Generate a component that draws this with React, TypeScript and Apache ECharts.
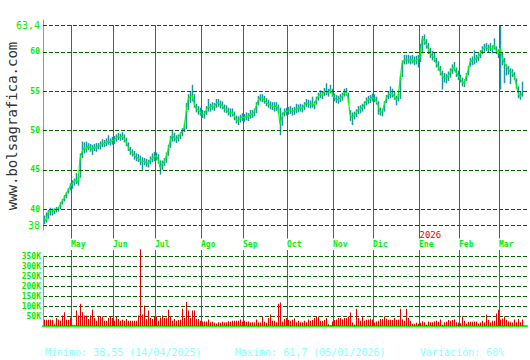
import { useEffect, useRef } from 'react';
import * as echarts from 'echarts';

// ---- calendar ----
const START_DATE = '2025-04-11';
const MARKET_CLOSED = ['2025-05-01', '2026-01-01', '2026-01-06'];
const EMPTY_SLOTS = 2;
const MONTHS_ES = ['Ene', 'Feb', 'Mar', 'Abr', 'May', 'Jun', 'Jul', 'Ago', 'Sep', 'Oct', 'Nov', 'Dic'];

// ---- axis ticks ----
const PRICE_TICKS = [38, 40, 45, 50, 55, 60, 63.4];
const PRICE_MIN = 37.365;
const PRICE_MAX = 64.035;
const VOLUME_MAX = 350000;
const VOLUME_STEP = 50000;

// ---- daily closes (Apr 2025 .. Mar 2026) ----
const closes = [
  38.8, 38.55, 39.5, 39.9, 39.9, 39.8, 40.0, 40.1, 40.5, 41.0, 41.4, 41.9, 42.4, 42.9,
  43.2, 43.5, 43.7, 43.4, 46.4, 47.3, 47.8, 47.7, 48.0, 47.8, 47.6, 47.9, 47.8, 48.0, 48.1, 48.4, 48.3, 48.5, 48.6, 48.5, 48.7,
  48.8, 49.0, 49.2, 49.1, 49.3, 49.0, 48.6, 48.0, 47.4, 47.2, 46.9, 46.6, 46.5, 46.2, 46.0, 46.1, 45.9, 45.8, 46.2, 46.5, 46.6,
  46.8, 46.4, 45.3, 45.7, 46.0, 46.6, 47.5, 48.6, 49.4, 49.1, 48.9, 49.1, 49.4, 49.9, 50.3, 52.2, 53.9, 54.3, 54.5, 53.5, 52.8, 52.6, 52.4,
  52.1, 52.0, 52.5, 53.0, 52.9, 53.1, 53.0, 53.4, 53.5, 53.3, 53.2, 52.8, 52.7, 52.4, 52.2, 52.3, 51.9, 51.4, 51.2, 51.5, 51.7,
  51.6, 51.8, 51.7, 52.0, 52.1, 52.3, 53.0, 53.8, 54.2, 54.1, 53.9, 53.6, 53.4, 53.2, 53.1, 53.0, 53.1, 52.8, 50.8, 51.8, 52.3, 52.4,
  52.5, 52.6, 52.4, 52.5, 52.7, 52.8, 52.9, 52.8, 53.1, 53.5, 53.4, 53.3, 53.4, 53.2, 53.8, 54.3, 54.6, 54.5, 54.9, 55.0, 54.8, 55.2, 54.8,
  54.2, 54.0, 53.9, 54.1, 54.3, 54.8, 54.9, 54.2, 52.0, 51.7, 51.9, 52.2, 52.6, 52.7, 52.9, 53.2, 53.7, 53.9, 54.0, 54.2,
  54.1, 53.8, 53.2, 52.4, 52.3, 53.2, 54.0, 54.5, 54.6, 54.7, 54.4, 53.9, 54.2, 56.4, 58.5, 58.9, 59.0, 59.0, 58.9, 59.0, 58.8, 58.9, 59.0,
  59.3, 61.7, 61.5, 61.0, 60.5, 59.8, 59.5, 59.3, 58.6, 58.2, 57.6, 57.0, 56.7, 56.6, 56.9, 57.3, 57.8, 58.1, 57.4, 57.0,
  56.6, 56.2, 56.0, 56.8, 57.6, 58.7, 58.9, 59.0, 59.1, 59.3, 59.7, 60.2, 60.5, 60.6, 60.4, 60.6, 60.3, 60.9, 60.2, 59.8,
  60.5, 59.4, 58.6, 58.2, 57.8, 57.5, 57.4, 57.0, 56.0, 54.8, 54.3, 54.7,
];

const highs = [
  39.2, 39.6, 39.9, 40.2, 40.1, 40.1, 40.3, 40.3, 40.9, 41.3, 41.8, 42.2, 42.7, 43.3,
  43.7, 43.9, 44.6, 44.2, 47.1, 48.6, 48.5, 48.6, 48.4, 48.3, 48.2, 48.3, 48.4, 48.4, 48.6, 48.9, 48.8, 49.0, 49.4, 49.0, 49.2,
  49.3, 49.5, 49.7, 49.6, 49.8, 49.5, 49.1, 48.5, 47.9, 47.6, 47.4, 47.1, 47.0, 46.8, 46.6, 46.5, 46.4, 46.3, 46.7, 47.1, 47.3,
  47.2, 47.0, 46.2, 46.2, 46.5, 47.2, 48.2, 49.3, 50.1, 49.7, 49.4, 49.5, 49.8, 50.3, 50.8, 53.5, 54.6, 55.0, 55.8, 54.6, 53.4, 53.1, 52.9,
  52.6, 52.5, 53.1, 54.0, 53.4, 53.6, 53.5, 54.0, 54.0, 53.8, 53.7, 53.3, 53.2, 52.9, 52.8, 52.8, 52.4, 51.9, 51.8, 52.0, 52.2,
  52.1, 52.3, 52.2, 52.6, 52.6, 52.8, 53.6, 54.4, 54.6, 54.6, 54.4, 54.1, 53.9, 53.7, 53.6, 53.6, 53.6, 53.3, 52.9, 52.3, 52.8, 52.9,
  53.0, 53.1, 52.9, 53.0, 53.4, 53.3, 53.4, 53.3, 53.6, 54.0, 53.9, 53.8, 54.3, 53.7, 54.3, 54.8, 55.1, 55.0, 55.4, 56.0, 55.3, 55.8, 55.3,
  54.7, 54.5, 54.4, 54.6, 54.8, 55.3, 55.4, 54.8, 52.6, 52.3, 52.4, 52.7, 53.1, 53.2, 53.4, 53.7, 54.2, 54.4, 54.5, 54.7,
  54.6, 54.3, 53.7, 52.9, 52.8, 53.7, 54.5, 55.0, 55.6, 55.3, 54.9, 54.4, 54.7, 57.0, 58.9, 59.6, 59.6, 59.6, 59.5, 59.6, 59.4, 59.5, 59.6,
  61.0, 62.0, 62.2, 61.6, 61.1, 60.5, 60.1, 59.9, 59.2, 58.8, 58.2, 57.6, 57.3, 57.2, 57.5, 57.9, 58.4, 58.7, 58.0, 57.6,
  57.1, 56.7, 56.5, 57.3, 58.2, 59.2, 59.4, 60.2, 59.6, 59.8, 60.2, 60.7, 61.0, 61.1, 60.9, 61.1, 60.8, 61.7, 60.7, 60.3,
  63.4, 59.9, 59.2, 58.4, 58.2, 57.9, 57.8, 57.4, 56.6, 55.6, 55.0, 56.2,
];

const lows = [
  38.1, 38.3, 38.8, 39.2, 39.2, 39.4, 39.6, 39.7, 40.0, 40.6, 41.0, 41.4, 42.0, 42.4,
  42.6, 43.0, 43.2, 43.0, 44.0, 46.5, 47.1, 47.2, 47.5, 47.3, 46.9, 47.4, 47.3, 47.6, 47.6, 47.9, 47.9, 48.0, 48.2, 48.1, 48.2,
  48.3, 48.6, 48.8, 48.7, 48.8, 48.5, 48.0, 47.4, 46.9, 46.7, 46.3, 46.1, 46.0, 45.6, 45.0, 45.6, 45.4, 45.3, 45.7, 46.0, 46.1,
  46.2, 45.8, 44.4, 45.0, 45.5, 45.9, 46.8, 47.8, 48.6, 48.6, 48.4, 48.6, 48.9, 49.3, 49.8, 50.2, 52.6, 53.5, 53.7, 52.9, 52.3, 52.0, 51.9,
  51.6, 51.5, 52.0, 52.4, 52.4, 52.6, 52.5, 52.9, 53.0, 52.8, 52.7, 52.3, 52.2, 51.9, 51.7, 51.8, 51.3, 50.9, 50.7, 51.0, 51.2,
  51.1, 51.3, 51.2, 51.5, 51.6, 51.8, 52.2, 53.2, 53.7, 53.6, 53.4, 53.1, 52.9, 52.7, 52.6, 52.4, 52.5, 52.2, 49.4, 50.6, 51.8, 51.9,
  52.0, 52.1, 51.9, 52.0, 52.2, 52.3, 52.4, 52.3, 52.6, 53.0, 52.9, 52.8, 52.9, 52.7, 53.3, 53.8, 54.1, 54.0, 54.4, 54.5, 54.3, 54.7, 54.3,
  53.7, 53.5, 53.4, 53.6, 53.8, 54.3, 54.4, 53.5, 51.2, 50.7, 51.4, 51.7, 52.1, 52.2, 52.4, 52.7, 53.2, 53.4, 53.5, 53.7,
  53.6, 53.3, 52.0, 51.9, 51.8, 52.4, 53.5, 54.0, 54.1, 54.2, 53.9, 53.2, 53.7, 54.0, 56.8, 58.4, 58.4, 58.5, 58.4, 58.5, 58.3, 58.4, 58.0,
  58.7, 59.8, 60.9, 60.4, 59.7, 59.2, 58.9, 58.7, 58.0, 57.6, 57.0, 55.2, 56.1, 56.0, 56.3, 56.7, 57.2, 57.5, 56.8, 56.4,
  56.1, 55.6, 55.5, 56.3, 57.0, 58.1, 58.3, 58.4, 58.6, 58.8, 59.2, 59.7, 60.0, 60.1, 59.9, 60.1, 59.8, 60.3, 59.7, 59.2,
  55.2, 58.3, 56.0, 57.0, 57.1, 55.9, 56.8, 56.4, 55.3, 54.1, 53.9, 54.3,
];

// ---- daily volume, thousands of shares ----
const volumesK = [
  31, 31, 31, 31, 31, 9, 40, 31, 26, 52, 69, 31, 31, 43,
  2, 2, 77, 52, 111, 69, 52, 52, 35, 52, 82, 40, 26, 48, 48, 48, 26, 26, 40, 48, 40,
  26, 47, 35, 26, 31, 26, 35, 26, 26, 26, 26, 26, 52, 384, 57, 103, 35, 77, 40, 35, 47,
  47, 26, 43, 52, 40, 43, 81, 47, 26, 35, 26, 30, 31, 86, 40, 120, 77, 40, 77, 77, 35, 35, 26,
  23, 23, 23, 33, 19, 21, 16, 12, 19, 16, 21, 18, 19, 24, 21, 26, 26, 26, 26, 33, 21,
  26, 21, 23, 18, 19, 18, 33, 19, 18, 47, 21, 16, 40, 57, 26, 26, 19, 111, 118, 21, 35, 40,
  30, 26, 31, 38, 19, 26, 19, 19, 26, 19, 33, 26, 30, 40, 47, 47, 26, 26, 30, 40, 9, 3, 23,
  30, 33, 40, 40, 33, 40, 40, 47, 67, 18, 6, 86, 40, 26, 47, 26, 31, 33, 36, 33,
  18, 23, 26, 35, 35, 48, 36, 31, 31, 30, 40, 30, 31, 86, 33, 26, 86, 40, 26, 11, 11, 16, 11,
  16, 24, 19, 6, 23, 19, 19, 23, 26, 21, 33, 6, 19, 21, 30, 26, 30, 33, 19, 16,
  14, 47, 26, 12, 21, 21, 21, 21, 21, 12, 18, 26, 18, 57, 30, 18, 26, 26, 62, 81,
  33, 38, 47, 30, 23, 21, 18, 33, 19, 35, 19, 33,
];

// ---- styles ----
const MONO = '"DejaVu Sans Mono", monospace';
const LIME = '#00ee00';
const LINE_GREEN = '#00ff00';
const DASH_GREEN = '#006400';
const VLINE_GREEN = '#168a16';
const TEAL = '#1898aa';
const VOL_RED = '#e00000';
const INFO_CYAN = '#88ffff';

function tradingDays(start: string, count: number, closed: string[]) {
  const out: string[] = [];
  const d = new Date(start + 'T00:00:00Z');
  while (out.length < count) {
    const iso = d.toISOString().slice(0, 10);
    const wd = d.getUTCDay();
    if (wd !== 0 && wd !== 6 && !closed.includes(iso)) out.push(iso);
    d.setUTCDate(d.getUTCDate() + 1);
  }
  return out;
}

const dates = tradingDays(START_DATE, closes.length + EMPTY_SLOTS, MARKET_CLOSED);

const monthMarks: { idx: number; label: string; year: string }[] = [];
for (let i = 1; i < dates.length; i++) {
  const m = Number(dates[i].slice(5, 7)) - 1;
  const pm = Number(dates[i - 1].slice(5, 7)) - 1;
  if (m !== pm) monthMarks.push({ idx: i, label: MONTHS_ES[m], year: m === 0 ? dates[i].slice(0, 4) : '' });
}

let minI = 0;
let maxI = 0;
closes.forEach((c, i) => {
  if (c < closes[minI]) minI = i;
  if (c > closes[maxI]) maxI = i;
});
const fmtNum = (v: number) => String(v).replace('.', ',');
const fmtDate = (iso: string) => `${iso.slice(8, 10)}/${iso.slice(5, 7)}/${iso.slice(0, 4)}`;
const variation = Math.round(((closes[maxI] - closes[minI]) / closes[minI]) * 100);

function buildOption(): any {
  return {
    animation: false,
    backgroundColor: '#ffffff',
    grid: [
      { left: 43, top: 20, width: 484, height: 210, outerBoundsMode: 'none' },
      { left: 43, top: 256, width: 484, height: 70, outerBoundsMode: 'none' },
      { left: 43, top: 25, width: 484, height: 301, outerBoundsMode: 'none' },
    ],
    xAxis: [
      { type: 'category', gridIndex: 0, data: dates, show: false },
      {
        type: 'category', gridIndex: 1, data: dates,
        axisLine: { show: true, lineStyle: { color: LINE_GREEN, width: 2 } },
        axisTick: { show: false }, axisLabel: { show: false }, splitLine: { show: false },
      },
      { type: 'category', gridIndex: 2, data: dates, show: false },
    ],
    yAxis: [
      {
        type: 'value', gridIndex: 0, min: PRICE_MIN, max: PRICE_MAX,
        axisLine: { show: true, lineStyle: { color: LINE_GREEN, width: 1 } },
        axisTick: { show: false }, axisLabel: { show: false }, splitLine: { show: false },
      },
      {
        type: 'value', gridIndex: 1, min: 0, max: VOLUME_MAX, interval: VOLUME_STEP,
        axisLine: { show: true, lineStyle: { color: LINE_GREEN, width: 1 } },
        axisTick: { show: false },
        axisLabel: {
          color: LIME, fontFamily: MONO, fontSize: 8, fontWeight: 'bold', margin: 2,
          formatter: (v: number) => (v === 0 ? '' : `${v / 1000}K`),
        },
        splitLine: { show: true, lineStyle: { color: DASH_GREEN, width: 1, type: [4, 2] } },
      },
      { type: 'value', gridIndex: 2, min: 0, max: 1, show: false },
    ],
    series: [
      {
        type: 'custom', name: 'months', xAxisIndex: 2, yAxisIndex: 2, z: 1, silent: true,
        data: monthMarks.map((m) => [m.idx, 0]),
        encode: { x: 0, y: 1 },
        renderItem: (params: any, api: any) => {
          const idx = api.value(0);
          const bottom = api.coord([idx, 0]);
          const top = api.coord([idx, 1]);
          const band = api.size([1, 0])[0];
          const x = Math.floor(bottom[0] - band / 2) + 0.5;
          const m = monthMarks[params.dataIndex];
          const children: any[] = [
            { type: 'line', shape: { x1: x, y1: top[1], x2: x, y2: 238.5 }, style: { stroke: VLINE_GREEN, lineWidth: 1 } },
            { type: 'line', shape: { x1: x, y1: 250, x2: x, y2: bottom[1] }, style: { stroke: VLINE_GREEN, lineWidth: 1 } },
            {
              type: 'text', x: x - 0.5, y: 244.5,
              style: { text: m.label, fill: LIME, font: `bold 8px ${MONO}`, align: 'left', verticalAlign: 'middle' },
            },
          ];
          if (m.year) {
            children.push({
              type: 'text', x: x, y: 235,
              style: { text: m.year, fill: '#ee0000', font: `9px ${MONO}`, align: 'left', verticalAlign: 'middle' },
            });
          }
          return { type: 'group', children };
        },
      },
      {
        type: 'custom', name: 'range', xAxisIndex: 0, yAxisIndex: 0, z: 2, silent: true,
        data: closes.map((_, i) => [i, lows[i], highs[i]]),
        encode: { x: 0, y: [1, 2] },
        renderItem: (_params: any, api: any) => {
          const lo = api.coord([api.value(0), api.value(1)]);
          const hi = api.coord([api.value(0), api.value(2)]);
          const x = Math.floor(lo[0]) + 0.5;
          return {
            type: 'line',
            shape: { x1: x, y1: lo[1], x2: x, y2: hi[1] },
            style: { stroke: TEAL, lineWidth: 1.5 },
          };
        },
      },
      {
        type: 'line', name: 'close', xAxisIndex: 0, yAxisIndex: 0, z: 3, silent: true,
        data: closes, symbol: 'none',
        lineStyle: { color: LINE_GREEN, width: 1.2 },
        markLine: {
          silent: true, symbol: ['none', 'none'],
          lineStyle: { color: DASH_GREEN, width: 1, type: [4, 2] },
          label: { position: 'start', distance: 3, color: LIME, fontFamily: MONO, fontSize: 8, fontWeight: 'bold' },
          data: PRICE_TICKS.map((v, i) => {
            const edge = i === 0 || i === PRICE_TICKS.length - 1;
            return {
              yAxis: v,
              label: {
                formatter: fmtNum(v),
                fontSize: edge ? 10 : 8,
                fontWeight: edge ? 'normal' : 'bold',
              },
            };
          }),
        },
      },
      {
        type: 'custom', name: 'volume', xAxisIndex: 1, yAxisIndex: 1, z: 2, silent: true,
        data: volumesK.map((v, i) => [i, v * 1000]),
        encode: { x: 0, y: 1 },
        renderItem: (_params: any, api: any) => {
          const top = api.coord([api.value(0), api.value(1)]);
          const base = api.coord([api.value(0), 0]);
          const x = Math.floor(top[0]);
          return {
            type: 'rect',
            shape: { x, y: top[1], width: 1, height: base[1] - top[1] },
            style: { fill: VOL_RED },
          };
        },
      },
    ],
    graphic: [
      {
        type: 'text', x: 12, y: 126, rotation: Math.PI / 2,
        style: { text: 'www.bolsagrafica.com', fill: '#333333', font: `14px ${MONO}`, align: 'center', verticalAlign: 'middle' },
      },
      {
        type: 'text', x: 45, y: 352,
        style: { text: `Minimo: ${fmtNum(closes[minI])} (${fmtDate(dates[minI])})`, fill: INFO_CYAN, font: `10px ${MONO}`, verticalAlign: 'middle' },
      },
      {
        type: 'text', x: 235, y: 352,
        style: { text: `Maximo: ${fmtNum(closes[maxI])} (${fmtDate(dates[maxI])})`, fill: INFO_CYAN, font: `10px ${MONO}`, verticalAlign: 'middle' },
      },
      {
        type: 'text', x: 420, y: 352,
        style: { text: `Variación: ${variation}%`, fill: INFO_CYAN, font: `10px ${MONO}`, verticalAlign: 'middle' },
      },
    ],
  };
}

export default function App() {
  const ref = useRef<HTMLDivElement>(null);
  useEffect(() => {
    if (!ref.current) return;
    const chart = echarts.init(ref.current, null, { renderer: 'svg' });
    chart.setOption(buildOption());
    return () => chart.dispose();
  }, []);
  return <div ref={ref} style={{ position: 'fixed', left: 0, top: 0, width: 530, height: 360, background: '#fff' }} />;
}
